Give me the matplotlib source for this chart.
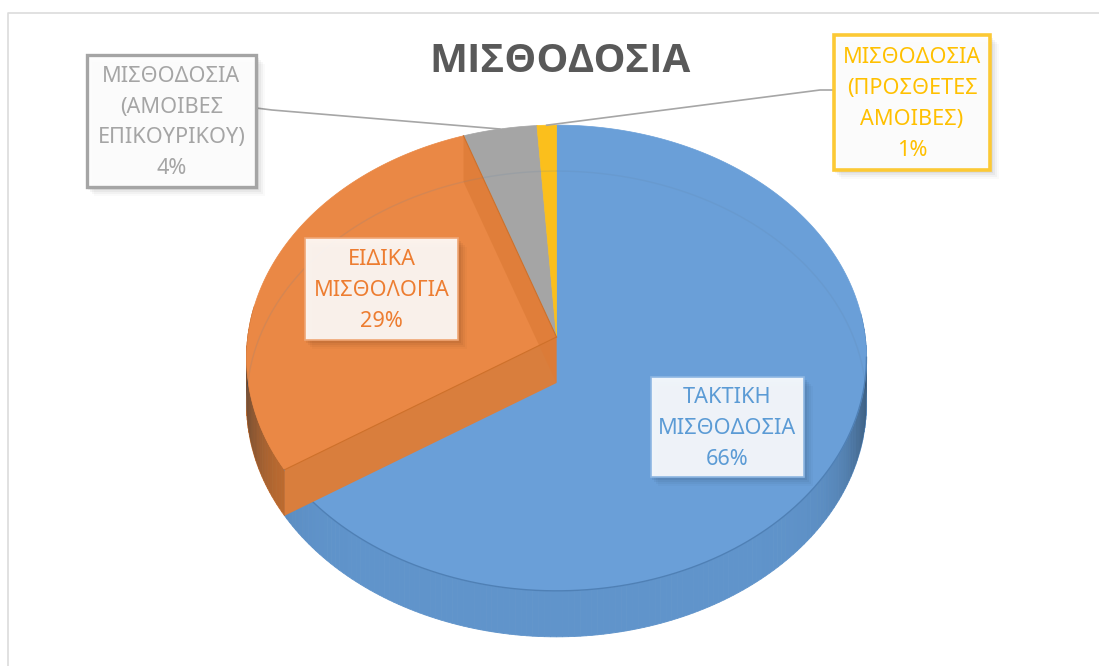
import numpy as np
import matplotlib
matplotlib.use('Agg')
import matplotlib.pyplot as plt
from matplotlib.patches import Rectangle

plt.rcParams['font.family'] = ['Noto Sans', 'DejaVu Sans']

# shares, labels show them rounded
categories = ['ΤΑΚΤΙΚΗ\nΜΙΣΘΟΔΟΣΙΑ', 'ΕΙΔΙΚΑ\nΜΙΣΘΟΛΟΓΙΑ',
              'ΜΙΣΘΟΔΟΣΙΑ\n(ΑΜΟΙΒΕΣ\nΕΠΙΚΟΥΡΙΚΟΥ)',
              'ΜΙΣΘΟΔΟΣΙΑ\n(ΠΡΟΣΘΕΤΕΣ\nΑΜΟΙΒΕΣ)']
shares = [65.8, 28.9, 4.2, 1.1]
percent_labels = ['66%', '29%', '4%', '1%']

face_colors = ['#6a9fd8', '#ea8845', '#a5a5a5', '#fbbf1c']
wall_colors = ['#6094cb', '#c9702f', '#8c8c8c', '#d9a414']
text_colors = ['#5b9bd5', '#ed7d31', '#a5a5a5', '#ffc000']
border_colors = ['#8db6e2', '#f0a674', '#a5a5a5', '#fcc935']
border_widths = [1.2, 1.2, 2.4, 2.6]

# label boxes in pixels: left, top, right, bottom
boxes = [(651, 377, 804, 477), (305, 238, 458, 340),
         (87, 55, 256, 187), (834, 35, 990, 170)]

# pie geometry in pixels, with a bit of perspective
cx, cy = 556.5, 337
a, b, k = 308.7, 231.0, 0.09
depth = 46


def project(theta, r=1.0, drop=0):
    # theta in degrees clockwise from the top
    t = np.radians(theta)
    xu = r * np.sin(t)
    yu = r * np.cos(t)
    w = 1 + k * yu
    return cx + a * xu / w, cy - b * yu / w + drop


fig = plt.figure(figsize=(10.99, 6.66), dpi=100)
ax = fig.add_axes([0, 0, 1, 1])
ax.set_xlim(0, 1099)
ax.set_ylim(666, 0)
ax.axis('off')

# chart area border
ax.plot([8, 8, 1099], [666, 13, 13], color='#dcdcdc', lw=1.2, zorder=1)

edges = np.concatenate([[0], np.cumsum(shares)]) / np.sum(shares) * 360

# outer wall, shaded strip by strip
for i in range(len(shares)):
    steps = np.arange(edges[i], edges[i + 1] + 1, 1.0)
    for t0, t1 in zip(steps[:-1], steps[1:]):
        if np.cos(np.radians(t0)) > 0.12:
            continue
        x0, y0 = project(t0)
        x1, y1 = project(t1)
        x2, y2 = project(t1, drop=depth)
        x3, y3 = project(t0, drop=depth)
        ax.fill([x0, x1, x2, x3], [y0, y1, y2, y3], color=wall_colors[i], lw=0.6, zorder=2)
        shade = abs(np.sin(np.radians(t0))) ** 12 * 0.65
        ax.fill([x0, x1, x2, x3], [y0, y1, y2, y3], color='#1c2b3a', alpha=shade, lw=0, zorder=2.1)

# top faces
for i in range(len(shares)):
    th = np.linspace(edges[i], edges[i + 1], 200)
    xs, ys = project(th)
    ax.fill(np.r_[cx, xs], np.r_[cy, ys], color=face_colors[i], ec=face_colors[i], lw=0.5, zorder=3)

# darker rim where the blue top meets the wall
th = np.linspace(95, edges[1], 200)
xs, ys = project(th)
ax.plot(xs, ys, color='#4f80b5', lw=1, zorder=3.1)

# cut faces seen through the top of the orange slice
for t, col, al in [(edges[1], '#d97e3d', 1.0), (edges[2], '#dc7b36', 0.7)]:
    x0, y0 = project(t)
    ax.fill([cx, x0, x0, cx], [cy, y0, y0 + depth, cy + depth], color=col, alpha=al, lw=0, zorder=4)
    ax.plot([cx, x0], [cy, y0], color='#cf7029', lw=0.8, zorder=4.1)

# faint outline of the bottom rim showing through
th = np.linspace(0, 360, 400)
xs, ys = project(th, drop=depth)
keep = np.cos(np.radians(th)) > -0.12
ax.plot(np.where(keep, xs, np.nan), np.where(keep, ys, np.nan), color='#5d7f9f', alpha=0.15, lw=1, zorder=4.2)

# leader lines
x_g, y_g = project((edges[2] + edges[3]) / 2)
x_y, y_y = project((edges[3] + edges[4]) / 2)
ax.plot([boxes[2][2], boxes[2][2] + 16, x_g], [108, 110, y_g], color='#a6a6a6', lw=1.2, zorder=5)
ax.plot([boxes[3][0], boxes[3][0] - 14, x_y], [90, 90, y_y], color='#a6a6a6', lw=1.2, zorder=5)

# labels with a soft shadow
for i, (l, t, r, bt) in enumerate(boxes):
    for off, al in [(9, 0.02), (7, 0.03), (5, 0.04), (3, 0.05)]:
        ax.add_patch(Rectangle((l + off - 2, t + off), r - l + 2, bt - t, color='#000000', alpha=al, lw=0, zorder=6))
    ax.add_patch(Rectangle((l, t), r - l, bt - t, fc=(1, 1, 1, 0.9), ec=border_colors[i], lw=border_widths[i], zorder=7))
    ax.text((l + r) / 2, (t + bt) / 2 + 1.5, categories[i] + '\n' + percent_labels[i], color=text_colors[i],
            fontsize=15.6, ha='center', va='center', linespacing=1.62, zorder=8)

ax.text(560, 62, 'ΜΙΣΘΟΔΟΣΙΑ', color='#595959', fontsize=29, fontweight='bold',
        family=['Open Sans', 'DejaVu Sans'], ha='center', va='center', zorder=8)

fig.savefig('out.png', dpi=100)
